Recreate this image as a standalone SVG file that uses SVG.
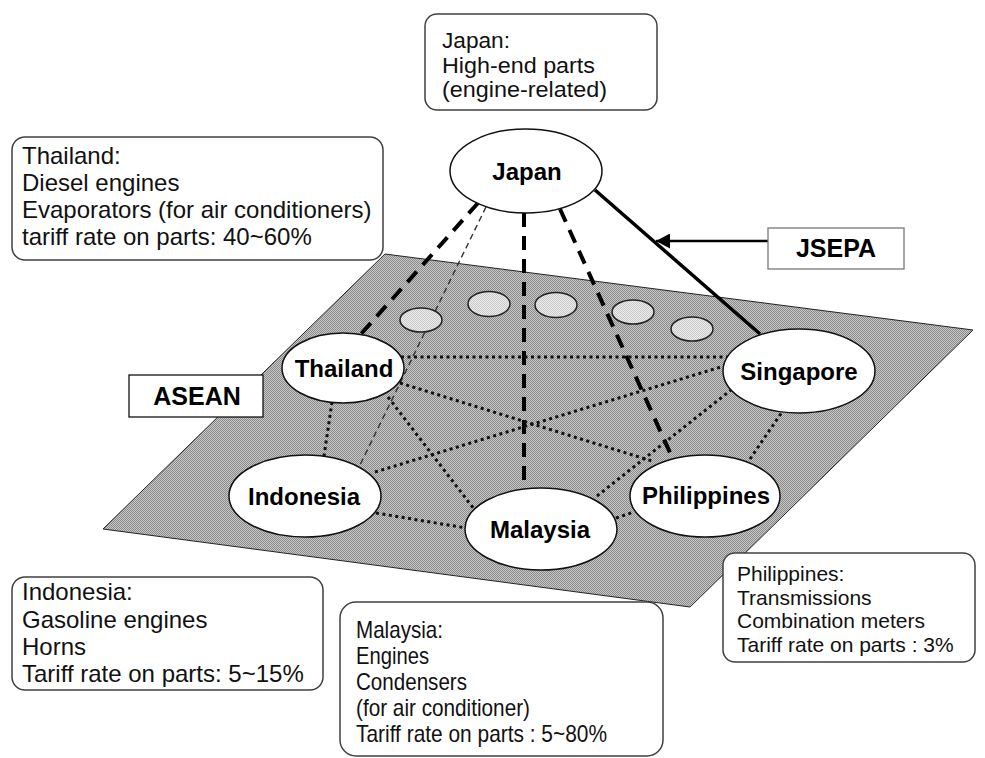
<svg xmlns="http://www.w3.org/2000/svg" width="985" height="758" viewBox="0 0 985 758">
  <defs>
    <pattern id="dither" width="2" height="2" patternUnits="userSpaceOnUse">
      <rect width="2" height="2" fill="#c8c8c8"/>
      <rect width="1" height="1" fill="#8a8a8a"/>
      <rect x="1" y="1" width="1" height="1" fill="#8a8a8a"/>
    </pattern>
    <pattern id="ditherLight" width="2" height="2" patternUnits="userSpaceOnUse">
      <rect width="2" height="2" fill="#ececec"/>
      <rect width="1" height="1" fill="#c9c9c9"/>
      <rect x="1" y="1" width="1" height="1" fill="#c9c9c9"/>
    </pattern>
    <marker id="arrowHead" markerUnits="userSpaceOnUse" markerWidth="15" markerHeight="15" refX="14" refY="7.5" orient="auto">
      <path d="M0,0 L14,7.5 L0,15 z" fill="#000"/>
    </marker>
  </defs>
  <style>
    .plane { fill: url(#dither); stroke: #222; stroke-width: 1; }
    .member { fill: url(#ditherLight); stroke: #222; stroke-width: 1.5; }
    .node { fill: #fff; stroke: #111; stroke-width: 1.5; }
    .nodeLabel { font-family: "Liberation Sans", Arial, sans-serif; font-weight: bold; font-size: 24px; fill: #000; text-anchor: middle; }
    .info { fill: #fff; stroke: #404040; stroke-width: 1.5; }
    .infoText { font-family: "Liberation Sans", Arial, sans-serif; font-size: 24px; fill: #111; }
    .tag { fill: #fff; stroke-width: 1.3; }
    .tagText { font-family: "Liberation Sans", Arial, sans-serif; font-weight: bold; font-size: 25px; fill: #000; text-anchor: middle; }
    .thickDash { fill: none; stroke: #000; stroke-width: 4; stroke-dasharray: 14 9; }
    .thinDash { fill: none; stroke: #333; stroke-width: 1.4; stroke-dasharray: 6 4; }
    .dotted { fill: none; stroke: #111; stroke-width: 3; stroke-dasharray: 3 3.5; }
    .solid { fill: none; stroke: #000; stroke-width: 3.5; }
    .arrow { fill: none; stroke: #000; stroke-width: 2.5; marker-end: url(#arrowHead); }
  </style>

  <!-- ASEAN plane -->
  <polygon id="asean-plane" class="plane" points="385,254 973,330 690,607 103,529"/>

  <!-- connectors -->
  <g id="connectors">
    <line class="thickDash" x1="478" y1="203" x2="361" y2="334"/>
    <line class="thinDash" x1="486" y1="207" x2="360" y2="465"/>
    <line class="thickDash" x1="524" y1="213" x2="524" y2="488"/>
    <line class="thickDash" x1="560" y1="209" x2="672" y2="457"/>
    <line class="solid" x1="595" y1="190" x2="760" y2="334"/>
    <line class="dotted" x1="401" y1="357" x2="727" y2="357"/>
    <line class="dotted" x1="332" y1="402" x2="324" y2="456"/>
    <line class="dotted" x1="388" y1="397" x2="474" y2="509"/>
    <line class="dotted" x1="400" y1="383" x2="652" y2="461"/>
    <line class="dotted" x1="375" y1="472" x2="724" y2="366"/>
    <line class="dotted" x1="376" y1="513" x2="466" y2="528"/>
    <line class="dotted" x1="616" y1="518" x2="634" y2="512"/>
    <line class="dotted" x1="597" y1="496" x2="731" y2="390"/>
    <line class="dotted" x1="750" y1="459" x2="782" y2="412"/>
    <line class="arrow" x1="768" y1="241" x2="656" y2="241"/>
  </g>

  <!-- other ASEAN members (unlabelled) -->
  <g id="other-members">
    <ellipse class="member" cx="421" cy="320" rx="21" ry="12"/>
    <ellipse class="member" cx="489" cy="304" rx="21" ry="12.5"/>
    <ellipse class="member" cx="556" cy="305" rx="21" ry="12.5"/>
    <ellipse class="member" cx="633" cy="312" rx="21" ry="12"/>
    <ellipse class="member" cx="692" cy="329" rx="21" ry="12"/>
  </g>

  <!-- nodes -->
  <g id="node-japan">
    <ellipse class="node" cx="526" cy="171" rx="76" ry="42"/>
    <text class="nodeLabel" x="527" y="180">Japan</text>
  </g>
  <g id="node-thailand">
    <ellipse class="node" cx="343" cy="368" rx="61" ry="35"/>
    <text class="nodeLabel" x="344" y="377">Thailand</text>
  </g>
  <g id="node-indonesia">
    <ellipse class="node" cx="305" cy="496" rx="76" ry="41"/>
    <text class="nodeLabel" x="304" y="505">Indonesia</text>
  </g>
  <g id="node-malaysia">
    <ellipse class="node" cx="541" cy="529" rx="76" ry="41"/>
    <text class="nodeLabel" x="540" y="538">Malaysia</text>
  </g>
  <g id="node-philippines">
    <ellipse class="node" cx="705" cy="496" rx="75" ry="41"/>
    <text class="nodeLabel" x="706" y="504">Philippines</text>
  </g>
  <g id="node-singapore">
    <ellipse class="node" cx="799" cy="371" rx="76" ry="42"/>
    <text class="nodeLabel" x="799" y="380">Singapore</text>
  </g>

  <!-- tags -->
  <g id="tag-asean">
    <rect class="tag" x="129" y="375" width="134" height="42" stroke="#111"/>
    <text class="tagText" x="197" y="405">ASEAN</text>
  </g>
  <g id="tag-jsepa">
    <rect class="tag" x="768" y="228" width="136" height="41" stroke="#777"/>
    <text class="tagText" x="836" y="257">JSEPA</text>
  </g>

  <!-- info boxes -->
  <g id="info-japan">
    <rect class="info" x="425" y="14" width="232" height="96" rx="12"/>
    <text class="infoText" x="442" y="48" style="font-size:22px" textLength="68" lengthAdjust="spacingAndGlyphs">Japan:</text>
    <text class="infoText" x="442" y="72.5" style="font-size:22px" textLength="153" lengthAdjust="spacingAndGlyphs">High-end parts</text>
    <text class="infoText" x="442" y="97" style="font-size:22px" textLength="165" lengthAdjust="spacingAndGlyphs">(engine-related)</text>
  </g>
  <g id="info-thailand">
    <rect class="info" x="12" y="137" width="371" height="123" rx="13"/>
    <text class="infoText" x="22" y="164">Thailand:</text>
    <text class="infoText" x="22" y="191">Diesel engines</text>
    <text class="infoText" x="22" y="218">Evaporators (for air conditioners)</text>
    <text class="infoText" x="22" y="245">tariff rate on parts: 40~60%</text>
  </g>
  <g id="info-indonesia">
    <rect class="info" x="12" y="577" width="311" height="113" rx="13"/>
    <text class="infoText" x="22" y="600">Indonesia:</text>
    <text class="infoText" x="22" y="628">Gasoline engines</text>
    <text class="infoText" x="22" y="655">Horns</text>
    <text class="infoText" x="22" y="682">Tariff rate on parts: 5~15%</text>
  </g>
  <g id="info-malaysia">
    <rect class="info" x="340" y="602" width="323" height="154" rx="16"/>
    <text class="infoText" x="356" y="638" textLength="87" lengthAdjust="spacingAndGlyphs">Malaysia:</text>
    <text class="infoText" x="356" y="664" textLength="73" lengthAdjust="spacingAndGlyphs">Engines</text>
    <text class="infoText" x="356" y="690" textLength="111" lengthAdjust="spacingAndGlyphs">Condensers</text>
    <text class="infoText" x="356" y="716" textLength="174" lengthAdjust="spacingAndGlyphs">(for air conditioner)</text>
    <text class="infoText" x="356" y="742" textLength="251" lengthAdjust="spacingAndGlyphs">Tariff rate on parts : 5~80%</text>
  </g>
  <g id="info-philippines">
    <rect class="info" x="723" y="553" width="252" height="109" rx="12"/>
    <text class="infoText" x="737" y="581" style="font-size:21px">Philippines:</text>
    <text class="infoText" x="737" y="605" style="font-size:21px">Transmissions</text>
    <text class="infoText" x="737" y="628" style="font-size:21px">Combination meters</text>
    <text class="infoText" x="737" y="652" style="font-size:21px">Tariff rate on parts : 3%</text>
  </g>
</svg>
